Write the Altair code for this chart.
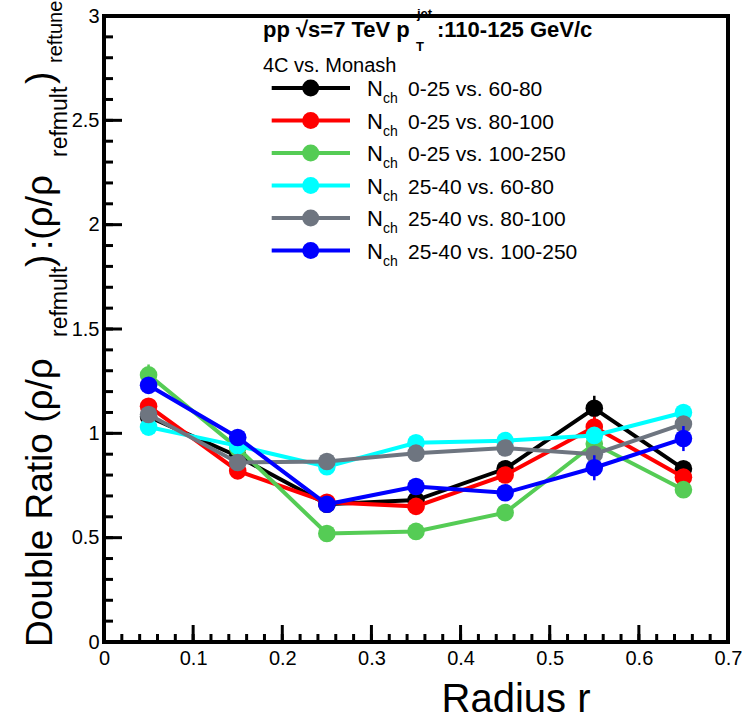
import altair as alt
import pandas as pd

# ---------------- data ----------------
radius = [0.05, 0.15, 0.25, 0.35, 0.45, 0.55, 0.65]
series_names = [
    "0-25 vs. 60-80",
    "0-25 vs. 80-100",
    "0-25 vs. 100-250",
    "25-40 vs. 60-80",
    "25-40 vs. 80-100",
    "25-40 vs. 100-250",
]
series_colors = ["#000000", "#ff0000", "#55cc55", "#00ffff", "#6e7580", "#0000ff"]

v_0_25_60_80 = [1.08, 0.89, 0.66, 0.68, 0.83, 1.12, 0.83]
v_0_25_80_100 = [1.13, 0.82, 0.67, 0.65, 0.80, 1.03, 0.79]
v_0_25_100_250 = [1.28, 0.93, 0.52, 0.53, 0.62, 0.95, 0.73]
v_25_40_60_80 = [1.03, 0.94, 0.84, 0.955, 0.965, 0.99, 1.10]
v_25_40_80_100 = [1.09, 0.86, 0.865, 0.905, 0.93, 0.90, 1.045]
v_25_40_100_250 = [1.23, 0.98, 0.66, 0.745, 0.715, 0.835, 0.975]

e_0_25_60_80 = [0.03, 0.02, 0.02, 0.02, 0.02, 0.06, 0.03]
e_0_25_80_100 = [0.03, 0.02, 0.02, 0.02, 0.02, 0.05, 0.03]
e_0_25_100_250 = [0.05, 0.02, 0.02, 0.02, 0.02, 0.04, 0.03]
e_25_40_60_80 = [0.02, 0.02, 0.02, 0.02, 0.02, 0.03, 0.03]
e_25_40_80_100 = [0.02, 0.02, 0.02, 0.02, 0.02, 0.03, 0.03]
e_25_40_100_250 = [0.04, 0.02, 0.02, 0.02, 0.02, 0.06, 0.06]

all_values = [v_0_25_60_80, v_0_25_80_100, v_0_25_100_250,
              v_25_40_60_80, v_25_40_80_100, v_25_40_100_250]
all_errors = [e_0_25_60_80, e_0_25_80_100, e_0_25_100_250,
              e_25_40_60_80, e_25_40_80_100, e_25_40_100_250]

x_major = [0, 0.1, 0.2, 0.3, 0.4, 0.5, 0.6, 0.7]
y_major = [0, 0.5, 1, 1.5, 2, 2.5, 3]
x_minor = [round(i * 0.02, 2) for i in range(36)]
y_minor = [round(i * 0.1, 1) for i in range(31)]

# ---------------- layout ----------------
FONT = "Liberation Sans"
L, T = 104, 16
W, H = 624, 626

xs = alt.Scale(domain=[0, 0.7], nice=False, zero=False)
ys = alt.Scale(domain=[0, 3], nice=False, zero=False)
xaxis = alt.Axis(values=x_major, format=".1~f", ticks=False, domain=False, grid=False,
                 labelFontSize=20, labelFont=FONT, labelColor="black", labelPadding=6,
                 labelFlush=False, title=None)
yaxis = alt.Axis(values=y_major, format=".1~f", ticks=False, domain=False, grid=False,
                 labelFontSize=20, labelFont=FONT, labelColor="black", labelPadding=5,
                 labelFlush=False, title=None)


def X(f):
    return alt.X(f, type="quantitative", scale=xs, axis=xaxis)


def Y(f):
    return alt.Y(f, type="quantitative", scale=ys, axis=yaxis)


one = alt.Data(values=[{}])


def label(txt, x, y, size, angle=0, weight="normal", align="left"):
    return alt.Chart(one).mark_text(
        text=txt, fontSize=size, font=FONT, angle=angle, fontWeight=weight,
        align=align, baseline="alphabetic", color="black"
    ).encode(x=alt.value(x - L), y=alt.value(y - T))


layers = []

# inward ticks
ytk_major = alt.Chart(pd.DataFrame({"v": y_major})).mark_rule(color="black", strokeWidth=3).encode(
    y=Y("v"), x=alt.value(0), x2=alt.value(18))
ytk_minor = alt.Chart(pd.DataFrame({"v": y_minor})).mark_rule(color="black", strokeWidth=3).encode(
    y=Y("v"), x=alt.value(0), x2=alt.value(9))
xtk_major = alt.Chart(pd.DataFrame({"v": x_major})).mark_rule(color="black", strokeWidth=3).encode(
    x=X("v"), y=alt.value(H), y2=alt.value(H - 17))
xtk_minor = alt.Chart(pd.DataFrame({"v": x_minor})).mark_rule(color="black", strokeWidth=3).encode(
    x=X("v"), y=alt.value(H), y2=alt.value(H - 8))
layers += [ytk_major, ytk_minor, xtk_major, xtk_minor]

# data series
for name, col, vals, errs in zip(series_names, series_colors, all_values, all_errors):
    df = pd.DataFrame({
        "r": radius,
        "v": vals,
        "lo": [a - b for a, b in zip(vals, errs)],
        "hi": [a + b for a, b in zip(vals, errs)],
    })
    base = alt.Chart(df)
    layers.append(base.mark_rule(color=col, strokeWidth=2.5).encode(
        x=X("r"), y=Y("lo"), y2=alt.Y2("hi")))
    layers.append(base.mark_line(color=col, strokeWidth=4).encode(x=X("r"), y=Y("v")))
    layers.append(base.mark_circle(color=col, size=310, opacity=1).encode(x=X("r"), y=Y("v")))

# legend
row_y = [88, 120.5, 153, 185.5, 218, 250.5]
for name, col, yc in zip(series_names, series_colors, row_y):
    layers.append(alt.Chart(one).mark_rule(color=col, strokeWidth=4).encode(
        x=alt.value(271.7 - L), x2=alt.value(350 - L), y=alt.value(yc - T)))
    layers.append(alt.Chart(one).mark_circle(color=col, size=290, opacity=1).encode(
        x=alt.value(310.7 - L), y=alt.value(yc - T)))
    layers.append(label("N", 367, yc + 8, 22))
    layers.append(label("ch", 383, yc + 15, 14))
    layers.append(label(name, 408, yc + 8, 21))

# header texts
layers.append(label("pp √s=7 TeV p", 263, 37, 22, weight="bold"))
layers.append(label("jet", 417, 18, 13, weight="bold"))
layers.append(label("T", 416, 51, 13, weight="bold"))
layers.append(label(":110-125 GeV/c", 437, 37, 22, weight="bold"))
layers.append(label("4C vs. Monash", 263, 72, 20))

# axis titles
layers.append(label("Radius r", 516, 712, 40, align="center"))
layers.append(label("Double Ratio (ρ/ρ", 52, 647, 37, angle=270))
layers.append(label("refmult", 67, 337, 23, angle=270))
layers.append(label(")", 52, 267, 37, angle=270))
layers.append(label(":(ρ/ρ", 52, 250, 37, angle=270))
layers.append(label("refmult", 67, 157, 23, angle=270))
layers.append(label(")", 52, 84, 37, angle=270))
layers.append(label("reftune", 62, 63, 20, angle=270))

chart = alt.layer(*layers).properties(
    width=W, height=H,
    background="white",
    autosize=alt.AutoSizeParams(type="none"),
    padding={"left": L, "top": T, "right": 742 - L - W, "bottom": 725 - T - H},
).configure_view(stroke="black", strokeWidth=4)

chart.save("out.html", embed_options={"renderer": "svg", "actions": False})
